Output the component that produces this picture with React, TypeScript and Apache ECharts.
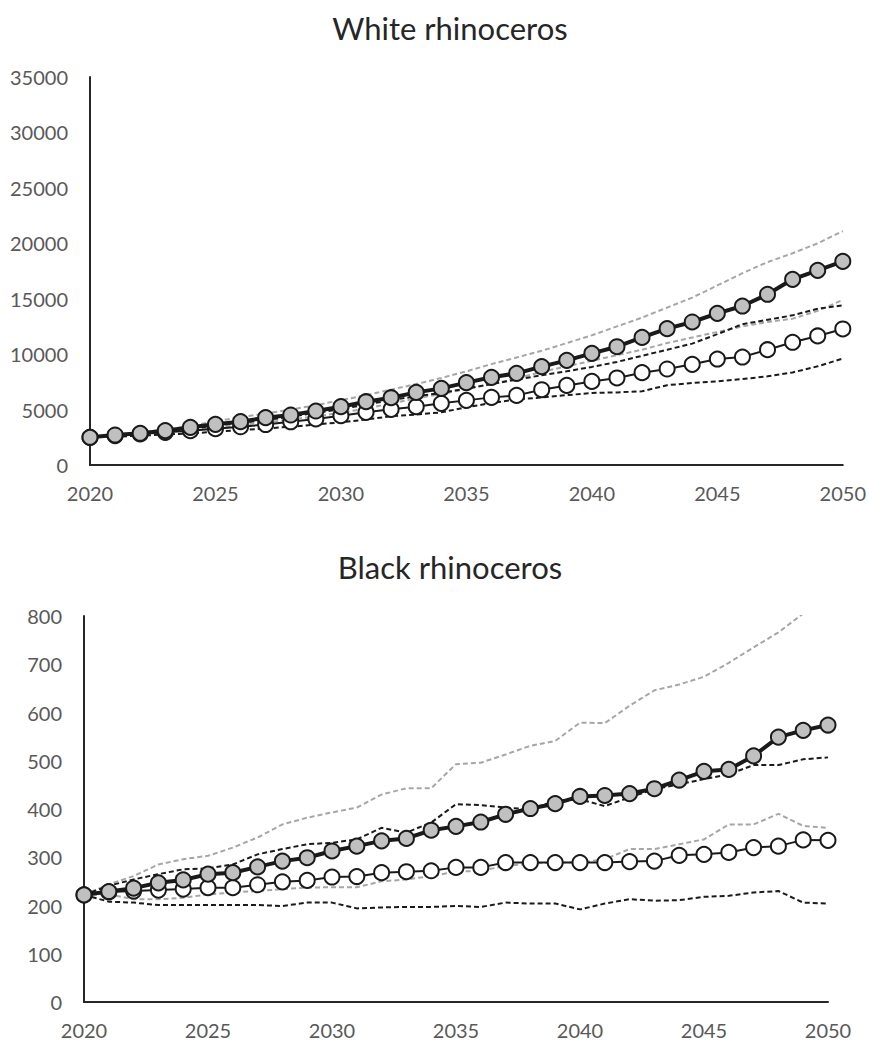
import React, { useEffect, useRef } from "react";
import * as echarts from "echarts";

const years = ["2020","2021","2022","2023","2024","2025","2026","2027","2028","2029","2030","2031","2032","2033","2034","2035","2036","2037","2038","2039","2040","2041","2042","2043","2044","2045","2046","2047","2048","2049","2050"];

const whiteTicks = { min: 0, max: 35000, interval: 5000 };
const blackTicks = { min: 0, max: 800, interval: 100 };

// White rhinoceros
const whiteHigh = [2500,2706,2860,3100,3400,3670,3910,4270,4510,4870,5260,5710,6070,6550,6910,7430,7910,8270,8870,9440,10070,10670,11510,12300,12900,13680,14340,15400,16750,17560,18370];
const whiteLow = [2500,2650,2800,2950,3100,3280,3450,3650,3900,4150,4450,4750,5020,5260,5560,5830,6100,6280,6790,7180,7540,7850,8330,8660,9080,9560,9740,10400,11070,11640,12270];
const whiteHighUpper = [2500,2700,2950,3200,3500,3950,4300,4650,5000,5400,5850,6300,6800,7300,7850,8450,9100,9700,10300,11000,11700,12500,13300,14200,15100,16200,17300,18300,19100,20000,21100];
const whiteHighLower = [2500,2650,2800,2950,3150,3350,3600,3850,4100,4400,4700,5100,5550,6000,6400,6850,7300,7800,8400,8900,9400,9900,10400,11000,11500,12000,12500,12900,13200,13900,14900];
const whiteLowUpper = [2500,2700,2900,3100,3300,3550,3800,4050,4350,4700,5050,5450,5850,6200,6500,6900,7300,7700,8100,8450,8850,9300,9850,10400,10950,11800,12700,13100,13500,14100,14400];
const whiteLowLower = [2500,2550,2650,2750,2850,3000,3150,3300,3450,3650,3850,4100,4400,4550,4750,5200,5600,5900,6100,6300,6500,6550,6650,7200,7400,7550,7750,8000,8350,8900,9600];

// Black rhinoceros
const blackHigh = [222,229,236,247,253,265,268,280,292,299,313,323,334,339,356,364,373,389,401,411,426,428,432,442,460,478,482,510,549,563,574];
const blackLow = [222,228,230,232,234,237,237,243,249,252,259,260,268,270,272,279,279,289,289,289,289,289,291,292,304,306,310,320,323,336,335];
const blackHighUpper = [222,244,261,285,296,303,320,341,368,382,393,403,430,443,443,493,496,513,531,541,579,578,614,646,658,674,703,735,766,805,850];
const blackHighLower = [222,223,213,213,216,223,227,230,234,237,238,238,250,254,261,270,272,282,287,289,289,296,317,317,327,337,368,368,390,365,361];
const blackLowUpper = [222,241,254,265,275,277,285,306,317,327,330,337,361,351,372,410,408,403,399,417,420,406,424,441,451,462,472,491,491,503,507];
const blackLowLower = [222,208,206,201,201,201,201,201,199,206,206,194,196,197,197,199,197,206,204,204,192,204,213,210,211,218,220,227,230,206,204];

const FONT = "Lato";
const LABEL_COLOR = "#595959";
const AXIS_COLOR = "#262626";

function dashed(data: number[], idx: number, color: string) {
  return {
    type: "line",
    xAxisIndex: idx,
    yAxisIndex: idx,
    data,
    symbol: "none",
    lineStyle: { color, width: 2, type: [5, 3] },
    z: 2,
  };
}

function solidSeries(data: number[], idx: number, filled: boolean) {
  return {
    type: "line",
    xAxisIndex: idx,
    yAxisIndex: idx,
    data,
    symbol: "circle",
    symbolSize: 15,
    lineStyle: { color: "#1a1a1a", width: filled ? 4 : 2 },
    itemStyle: {
      color: filled ? "#c0c0c0" : "#ffffff",
      borderColor: "#1a1a1a",
      borderWidth: 2,
    },
    z: filled ? 4 : 3,
  };
}

export default function App() {
  const ref = useRef<HTMLDivElement>(null);
  useEffect(() => {
    if (!ref.current) return;
    const chart = echarts.init(ref.current, undefined, { renderer: "svg" });
    const xAxisBase = {
      type: "category",
      data: years,
      boundaryGap: false,
      axisLine: { show: true, lineStyle: { color: AXIS_COLOR, width: 2 } },
      axisTick: { show: false },
      splitLine: { show: false },
      axisLabel: { interval: 4, color: LABEL_COLOR, fontFamily: FONT, fontSize: 20, margin: 18 },
    };
    const yAxisBase = {
      type: "value",
      axisLine: { show: true, lineStyle: { color: AXIS_COLOR, width: 2 } },
      axisTick: { show: false },
      splitLine: { show: false },
      axisLabel: {
        color: LABEL_COLOR,
        fontFamily: FONT,
        fontSize: 20,
        margin: 22,
        formatter: (v: number) => String(v),
      },
    };
    const titleStyle = { fontFamily: FONT, fontSize: 31, fontWeight: "normal", color: "#262626" };
    chart.setOption({
      animation: false,
      backgroundColor: "#ffffff",
      title: [
        { text: "White rhinoceros", left: 445, top: 7, textAlign: "center", textStyle: titleStyle },
        { text: "Black rhinoceros", left: 445, top: 546, textAlign: "center", textStyle: titleStyle },
      ],
      grid: [
        { left: 90, top: 77, width: 755, height: 388 },
        { left: 84, top: 616, width: 744, height: 386 },
      ],
      xAxis: [
        { ...xAxisBase, gridIndex: 0 },
        { ...xAxisBase, gridIndex: 1 },
      ],
      yAxis: [
        { ...yAxisBase, gridIndex: 0, ...whiteTicks },
        { ...yAxisBase, gridIndex: 1, ...blackTicks },
      ],
      series: [
        dashed(whiteHighUpper, 0, "#a6a6a6"),
        dashed(whiteHighLower, 0, "#a6a6a6"),
        dashed(whiteLowUpper, 0, "#1a1a1a"),
        dashed(whiteLowLower, 0, "#1a1a1a"),
        solidSeries(whiteLow, 0, false),
        solidSeries(whiteHigh, 0, true),
        dashed(blackHighUpper, 1, "#a6a6a6"),
        dashed(blackHighLower, 1, "#a6a6a6"),
        dashed(blackLowUpper, 1, "#1a1a1a"),
        dashed(blackLowLower, 1, "#1a1a1a"),
        solidSeries(blackLow, 1, false),
        solidSeries(blackHigh, 1, true),
      ],
    });
    return () => chart.dispose();
  }, []);
  return (
    <div
      ref={ref}
      style={{ position: "fixed", left: 0, top: 0, width: 869, height: 1049, background: "#fff" }}
    />
  );
}
